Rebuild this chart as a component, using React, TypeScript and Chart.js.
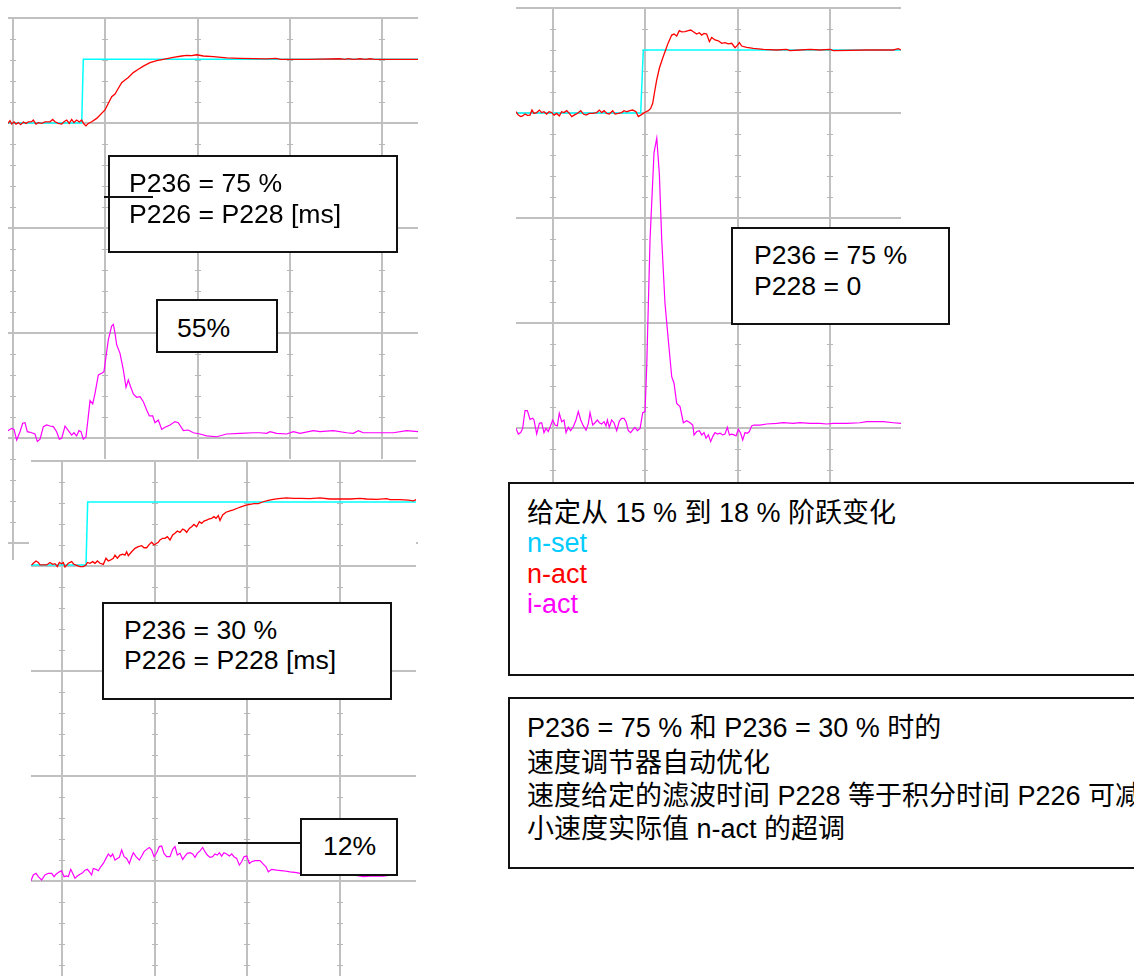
import React, { useEffect, useRef } from 'react';
import { Chart, registerables } from 'chart.js';
Chart.register(...registerables);

type P = [number, number];

// ---------- tick values (t in divisions, n in %, i in %) ----------
const A_X_TICKS = [0, 1, 2, 3, 4];
const B_X_TICKS = [0, 1, 2, 3];
const C_X_TICKS = [0, 1, 2, 3];
const N_TICKS = [-5, 0, 5, 10, 15, 20];

// ---------- Panel A : P236 = 75 %, P226 = P228 ----------
const A_NSET: P[] = [[-0.06, 15.0], [0.745, 15.0], [0.762, 18.03], [4.4, 18.03]];
const A_NACT: P[] = [
  [-0.054, 14.98], [-0.033, 15.11], [-0.014, 14.95], [0.011, 15.05], [0.033, 14.95], [0.058, 15.02], [0.083, 14.92],
  [0.112, 15.05], [0.141, 14.98], [0.166, 15.05], [0.202, 15.06], [0.22, 15.14], [0.249, 14.95], [0.274, 15.02],
  [0.311, 14.98], [0.347, 15.05], [0.401, 15.06], [0.43, 15.17], [0.455, 15.06], [0.491, 14.98], [0.528, 14.95],
  [0.553, 15.06], [0.582, 15.14], [0.61, 14.98], [0.636, 15.17], [0.661, 15.02], [0.69, 15.14], [0.719, 15.05],
  [0.744, 15.14], [0.77, 14.95], [0.791, 14.86], [0.816, 14.98], [0.853, 15.06], [0.907, 15.22], [0.997, 15.62],
  [1.07, 16.25], [1.106, 16.38], [1.131, 16.57], [1.178, 16.92], [1.214, 17.05], [1.25, 17.17], [1.304, 17.4],
  [1.359, 17.56], [1.413, 17.71], [1.485, 17.87], [1.558, 17.97], [1.629, 18.03], [1.738, 18.13], [1.829, 18.19],
  [1.883, 18.22], [1.937, 18.21], [1.991, 18.25], [2.063, 18.19], [2.171, 18.16], [2.316, 18.1], [2.46, 18.08],
  [2.75, 18.05], [2.85, 18.08], [2.9, 18.03], [3.2, 18.03], [3.54, 18.06], [3.6, 18.03], [3.63, 18.06], [3.7, 18.03],
  [3.76, 18.06], [3.82, 18.03], [3.87, 18.06], [3.92, 18.03], [4.39, 18.03],
];
const A_IACT: P[] = [
  [-0.054, 3.5], [-0.014, 4.6], [0.011, 4.1], [0.04, -1.0], [0.076, 3.0], [0.105, 7.0], [0.13, 7.3], [0.155, 3.0],
  [0.202, 2.5], [0.238, 1.9], [0.264, -1.7], [0.293, -0.6], [0.329, 5.4], [0.365, 6.2], [0.401, 5.7], [0.437, 5.4],
  [0.473, 3.0], [0.502, -0.6], [0.528, -0.1], [0.564, 5.7], [0.6, 3.5], [0.636, 1.4], [0.661, 2.5], [0.69, 1.0],
  [0.715, 3.5], [0.737, 3.0], [0.762, -0.6], [0.791, 0.6], [0.816, 10.2], [0.835, 17.8], [0.864, 16.2], [0.889, 21.3],
  [0.925, 30.0], [0.961, 30.8], [0.986, 31.6], [1.008, 38.7], [1.033, 46.7], [1.069, 53.3], [1.088, 54.1],
  [1.106, 49.8], [1.124, 44.3], [1.16, 40.3], [1.196, 32.4], [1.225, 24.1], [1.25, 27.6], [1.275, 24.4], [1.304, 21.0],
  [1.34, 19.4], [1.377, 19.7], [1.413, 17.3], [1.449, 13.3], [1.478, 10.5], [1.514, 10.5], [1.539, 7.3], [1.575, 8.6],
  [1.612, 4.1], [1.648, 5.1], [1.702, 6.2], [1.756, 7.8], [1.792, 7.3], [1.846, 3.5], [1.9, 3.8], [1.955, 2.5],
  [2.027, 1.9], [2.099, 1.0], [2.208, 0.6], [2.316, 1.9], [2.461, 2.2], [2.605, 2.5], [2.677, 2.5], [2.75, 2.2],
  [2.786, 3.0], [2.858, 2.2], [2.967, 1.9], [3.039, 3.0], [3.111, 2.2], [3.256, 3.5], [3.328, 3.0], [3.473, 3.5],
  [3.617, 2.5], [3.689, 2.2], [3.743, 3.5], [3.797, 2.5], [4.123, 2.5], [4.267, 3.5], [4.39, 3.0],
];

// ---------- Panel B : P236 = 75 %, P228 = 0 ----------
const B_NSET: P[] = [[-0.41, 15.0], [0.95, 15.0], [0.978, 18.0], [3.78, 18.0]];
const B_NACT: P[] = [
  [-0.401, 15.06], [-0.376, 14.9], [-0.35, 14.83], [-0.329, 14.86], [-0.303, 14.95], [-0.278, 14.89], [-0.249, 14.9],
  [-0.228, 15.14], [-0.206, 14.98], [-0.177, 15.02], [-0.148, 15.14], [-0.123, 15.02], [-0.098, 15.06], [-0.069, 14.95],
  [-0.043, 15.06], [-0.014, 15.02], [0.011, 14.9], [0.04, 14.98], [0.068, 14.86], [0.094, 15.06], [0.119, 15.02],
  [0.148, 15.11], [0.177, 14.98], [0.203, 14.83], [0.228, 14.9], [0.263, 14.98], [0.3, 15.11], [0.329, 14.95],
  [0.358, 14.9], [0.394, 14.98], [0.43, 14.98], [0.473, 15.02], [0.502, 15.14], [0.527, 15.02], [0.553, 15.11],
  [0.582, 14.98], [0.61, 14.95], [0.646, 15.11], [0.672, 14.95], [0.708, 14.98], [0.744, 15.02], [0.769, 15.11],
  [0.798, 15.06], [0.834, 15.11], [0.863, 15.14], [0.899, 15.06], [0.924, 14.83], [0.95, 14.9], [0.978, 14.98],
  [1.008, 15.06], [1.033, 15.11], [1.058, 15.22], [1.08, 15.46], [1.098, 15.94], [1.123, 16.57], [1.152, 17.13],
  [1.184, 17.56], [1.213, 17.92], [1.249, 18.35], [1.286, 18.71], [1.311, 18.76], [1.34, 18.67], [1.368, 18.92],
  [1.394, 18.86], [1.43, 18.87], [1.466, 18.92], [1.492, 18.95], [1.52, 18.87], [1.557, 18.76], [1.585, 18.82],
  [1.611, 18.71], [1.636, 18.79], [1.665, 18.76], [1.694, 18.4], [1.719, 18.6], [1.755, 18.48], [1.791, 18.44],
  [1.828, 18.32], [1.863, 18.35], [1.899, 18.29], [1.936, 18.32], [1.972, 18.11], [1.997, 18.22], [2.019, 18.35],
  [2.044, 18.19], [2.098, 18.13], [2.17, 18.08], [2.279, 18.03], [2.423, 18.0], [2.53, 18.03], [2.568, 17.97],
  [2.676, 18.0], [2.784, 18.03], [2.893, 18.0], [3.001, 18.03], [3.037, 17.97], [3.398, 18.0], [3.687, 18.0],
  [3.741, 18.06], [3.77, 18.0],
];
const B_IACT: P[] = [
  [-0.401, -0.2], [-0.376, -2.9], [-0.35, -2.2], [-0.329, -0.2], [-0.303, 8.3], [-0.278, 8.3], [-0.249, 4.1],
  [-0.22, 4.6], [-0.206, 3.8], [-0.177, -2.9], [-0.148, 2.2], [-0.123, 2.5], [-0.098, -2.2], [-0.076, -0.2],
  [-0.051, -1.7], [-0.033, 0.3], [-0.004, 3.8], [0.022, 1.4], [0.047, 1.0], [0.068, 7.0], [0.094, 3.0], [0.119, 3.8],
  [0.141, -2.2], [0.166, 0.3], [0.191, -1.3], [0.22, 0.6], [0.249, 3.8], [0.274, 7.8], [0.3, 3.8], [0.329, 1.0],
  [0.358, -1.0], [0.383, 2.2], [0.401, 7.3], [0.43, 1.4], [0.455, 2.5], [0.48, 3.8], [0.502, 2.5], [0.527, 1.9],
  [0.553, 3.0], [0.574, 1.0], [0.589, 3.8], [0.61, 0.3], [0.635, 3.8], [0.661, 2.5], [0.69, -1.3], [0.719, 3.3],
  [0.744, 4.6], [0.769, 4.6], [0.791, 3.0], [0.816, -1.3], [0.841, -2.2], [0.87, -0.6], [0.888, 0.3], [0.914, -1.3],
  [0.943, -0.2], [0.972, 7.3], [0.997, 7.8], [1.015, 29.2], [1.051, 89.5], [1.094, 131], [1.124, 138], [1.152, 121],
  [1.178, 89.5], [1.213, 59.4], [1.249, 41.9], [1.286, 24.4], [1.311, 21.3], [1.34, 11.7], [1.376, 10.2],
  [1.412, 2.5], [1.449, 3.5], [1.484, 2.5], [1.514, 1.4], [1.528, -3.3], [1.557, -1.7], [1.585, -1.3], [1.611, -3.3],
  [1.636, -2.2], [1.658, -4.9], [1.683, -3.3], [1.708, -6.5], [1.73, -4.1], [1.755, -2.2], [1.781, -2.9],
  [1.809, -2.5], [1.838, -3.3], [1.863, -2.9], [1.889, 0.3], [1.911, -3.3], [1.936, -2.9], [1.961, -3.3],
  [1.983, -3.8], [2.008, -0.6], [2.033, -2.5], [2.055, -5.7], [2.08, -2.2], [2.105, -2.5], [2.127, -1.7],
  [2.152, 1.0], [2.177, 1.4], [2.242, 1.4], [2.314, 1.9], [2.423, 2.2], [2.495, 2.5], [2.603, 2.2], [2.676, 2.5],
  [2.784, 2.2], [2.893, 2.2], [2.965, 1.9], [3.037, 2.2], [3.181, 2.2], [3.326, 2.5], [3.398, 3.0], [3.506, 3.0],
  [3.578, 3.0], [3.687, 2.5], [3.77, 2.2],
];

// ---------- Panel C : P236 = 30 %, P226 = P228 ----------
const C_NSET: P[] = [[-0.34, 15.05], [0.259, 15.05], [0.277, 18.05], [3.83, 18.05]];
const C_NACT: P[] = [
  [-0.328, 15.05], [-0.31, 15.13], [-0.281, 15.24], [-0.256, 15.17], [-0.238, 15.05], [-0.202, 15.05],
  [-0.166, 15.05], [-0.13, 15.17], [-0.101, 15.08], [-0.076, 15.11], [-0.051, 14.97], [-0.029, 15.17],
  [-0.004, 15.11], [0.014, 15.17], [0.032, 14.95], [0.068, 15.13], [0.104, 15.21], [0.13, 15.08], [0.166, 15.02],
  [0.194, 14.97], [0.23, 14.97], [0.259, 15.05], [0.274, 15.17], [0.302, 15.13], [0.331, 15.21], [0.356, 15.13],
  [0.382, 15.24], [0.41, 15.13], [0.446, 15.08], [0.475, 15.37], [0.5, 15.24], [0.526, 15.29], [0.554, 15.37],
  [0.572, 15.52], [0.598, 15.37], [0.626, 15.52], [0.655, 15.56], [0.68, 15.52], [0.698, 15.68], [0.716, 15.49],
  [0.752, 15.68], [0.788, 15.84], [0.824, 15.92], [0.861, 15.97], [0.886, 15.87], [0.914, 15.87], [0.943, 16.03],
  [0.968, 16.13], [0.994, 16.0], [1.015, 16.06], [1.04, 16.13], [1.058, 16.24], [1.087, 16.32], [1.112, 16.32],
  [1.137, 16.4], [1.166, 16.24], [1.195, 16.48], [1.22, 16.56], [1.245, 16.67], [1.274, 16.6], [1.303, 16.76],
  [1.328, 16.7], [1.346, 16.6], [1.375, 16.79], [1.4, 16.87], [1.425, 16.98], [1.454, 16.87], [1.483, 17.11],
  [1.508, 17.03], [1.533, 17.14], [1.562, 17.19], [1.591, 17.24], [1.616, 17.27], [1.641, 17.35], [1.663, 17.27],
  [1.688, 17.4], [1.706, 17.17], [1.735, 17.43], [1.771, 17.56], [1.814, 17.62], [1.85, 17.67], [1.893, 17.75],
  [1.94, 17.83], [1.987, 17.9], [2.03, 17.94], [2.073, 17.97], [2.12, 17.97], [2.174, 18.06], [2.228, 18.13],
  [2.282, 18.17], [2.336, 18.21], [2.426, 18.24], [2.498, 18.22], [2.57, 18.22], [2.678, 18.21], [2.786, 18.24],
  [2.894, 18.19], [3.002, 18.19], [3.11, 18.19], [3.218, 18.22], [3.29, 18.19], [3.398, 18.17], [3.506, 18.21],
  [3.542, 18.16], [3.65, 18.16], [3.74, 18.14], [3.794, 18.1], [3.83, 18.17],
];
const C_IACT: P[] = [
  [-0.335, 0.2], [-0.31, 2.9], [-0.281, 3.7], [-0.256, 2.1], [-0.22, 0.5], [-0.184, 2.9], [-0.148, 3.7],
  [-0.112, 3.7], [-0.086, 2.1], [-0.065, 3.3], [-0.029, 4.4], [-0.004, 4.9], [0.022, 2.1], [0.05, 2.5], [0.068, 2.1],
  [0.094, 5.6], [0.115, 3.7], [0.14, 1.3], [0.166, 2.4], [0.194, 3.3], [0.223, 4.0], [0.248, 5.2], [0.274, 5.6],
  [0.302, 4.0], [0.32, 2.9], [0.338, 6.0], [0.367, 5.6], [0.392, 4.9], [0.418, 6.8], [0.446, 8.4], [0.475, 10.8],
  [0.5, 12.9], [0.526, 11.6], [0.547, 12.9], [0.572, 10.0], [0.598, 10.8], [0.619, 11.3], [0.644, 14.8], [0.67, 11.6],
  [0.698, 10.8], [0.727, 8.4], [0.752, 11.6], [0.77, 13.5], [0.799, 11.6], [0.835, 10.0], [0.861, 11.9], [0.886, 14.0],
  [0.914, 15.1], [0.943, 16.0], [0.968, 14.8], [0.994, 11.6], [1.022, 13.5], [1.051, 16.4], [1.076, 16.7],
  [1.101, 13.2], [1.13, 11.6], [1.166, 11.6], [1.195, 15.1], [1.22, 16.4], [1.245, 12.4], [1.274, 13.2],
  [1.303, 10.3], [1.328, 11.9], [1.353, 13.2], [1.382, 13.5], [1.411, 12.9], [1.436, 11.3], [1.461, 13.2],
  [1.49, 14.4], [1.519, 16.0], [1.544, 14.0], [1.569, 12.4], [1.598, 11.3], [1.627, 11.6], [1.652, 12.9],
  [1.677, 12.4], [1.699, 13.5], [1.724, 11.9], [1.749, 13.5], [1.778, 12.9], [1.807, 11.9], [1.832, 12.9],
  [1.857, 11.6], [1.886, 10.8], [1.915, 7.6], [1.94, 9.2], [1.965, 11.6], [1.994, 11.9], [2.023, 8.4], [2.048, 9.2],
  [2.084, 9.7], [2.138, 9.7], [2.174, 8.1], [2.203, 6.8], [2.228, 4.4], [2.264, 5.6], [2.318, 5.2], [2.39, 4.9],
  [2.462, 4.4], [2.534, 4.0], [2.57, 3.7], [2.804, 2.9], [2.93, 3.3], [3.038, 2.9], [3.146, 2.9], [3.254, 2.1],
  [3.362, 2.5], [3.47, 2.4], [3.56, 2.9],
];

// ---------- text ----------
const LEGEND_TITLE = '给定从 15 % 到 18 % 阶跃变化';
const LEGEND_ITEMS = [
  { label: 'n-set', color: '#00ccff' },
  { label: 'n-act', color: '#ff0000' },
  { label: 'i-act', color: '#ff00ff' },
];
const NOTE_LINES = [
  'P236 = 75 % 和 P236 = 30 % 时的',
  '速度调节器自动优化',
  '速度给定的滤波时间 P228 等于积分时间 P226 可减',
  '小速度实际值 n-act 的超调',
];

const GRID = '#c0c0c0';
const FONT = '"Liberation Sans", Arial, "Noto Sans CJK SC", sans-serif';

const minorTicks = {
  id: 'minorTicks',
  beforeDatasetsDraw(chart: any) {
    const { ctx, scales } = chart;
    const x = scales.x, y = scales.y;
    ctx.save();
    ctx.strokeStyle = '#b8b8b8';
    ctx.lineWidth = 1;
    const xs = x.ticks.map((t: any) => Math.round(x.getPixelForValue(t.value)));
    for (let n = Math.ceil(y.min); n <= Math.floor(y.max); n++) {
      if (n % 5 === 0) continue;
      const py = Math.round(y.getPixelForValue(n)) + 0.5;
      for (const px of xs) {
        ctx.beginPath();
        ctx.moveTo(px - 3, py);
        ctx.lineTo(px + 3, py);
        ctx.stroke();
      }
    }
    ctx.restore();
  },
};

interface PanelProps {
  left: number; top: number; width: number; height: number;
  pad: { left: number; right: number; top: number; bottom: number };
  xMin: number; xMax: number; xTicks: number[];
  nMin: number; nMax: number;
  nset: P[]; nact: P[]; iact: P[];
  bg?: string;
}

function Panel(p: PanelProps) {
  const ref = useRef<HTMLCanvasElement | null>(null);
  useEffect(() => {
    if (!ref.current) return;
    const toXY = (a: P[]) => a.map(([x, y]) => ({ x, y }));
    const chart = new Chart(ref.current, {
      type: 'line',
      data: {
        datasets: [
          { label: 'n-act', data: toXY(p.nact), borderColor: '#ff0000', borderWidth: 1.3, pointRadius: 0, yAxisID: 'y', tension: 0 },
          { label: 'n-set', data: toXY(p.nset), borderColor: '#00ffff', borderWidth: 1.5, pointRadius: 0, yAxisID: 'y', tension: 0 },
          { label: 'i-act', data: toXY(p.iact), borderColor: '#ff00ff', borderWidth: 1.2, pointRadius: 0, yAxisID: 'yi', tension: 0 },
        ],
      },
      options: {
        animation: false,
        responsive: false,
        events: [],
        layout: { padding: p.pad },
        plugins: { legend: { display: false }, tooltip: { enabled: false } },
        scales: {
          x: {
            type: 'linear', min: p.xMin, max: p.xMax,
            afterBuildTicks: (axis: any) => { axis.ticks = p.xTicks.map((v) => ({ value: v })); },
            ticks: { display: false },
            grid: { color: GRID, lineWidth: 2, drawTicks: false },
            border: { display: false },
          },
          y: {
            type: 'linear', min: p.nMin, max: p.nMax,
            afterBuildTicks: (axis: any) => { axis.ticks = N_TICKS.filter((v) => v >= p.nMin && v <= p.nMax).map((v) => ({ value: v })); },
            ticks: { display: false },
            grid: { color: GRID, lineWidth: 2, drawTicks: false },
            border: { display: false },
          },
          yi: {
            type: 'linear', display: false, min: p.nMin * 10, max: p.nMax * 10,
          },
        },
      } as any,
      plugins: [minorTicks],
    });
    return () => chart.destroy();
  }, []);
  return (
    <canvas
      ref={ref}
      width={p.width}
      height={p.height}
      style={{ position: 'absolute', left: p.left, top: p.top, width: p.width, height: p.height, background: p.bg || 'transparent' }}
    />
  );
}

function Box({ l, t, w, h }: { l: number; t: number; w: number; h: number }) {
  return <div style={{ position: 'absolute', left: l, top: t, width: w, height: h, boxSizing: 'border-box', border: '2px solid #111', background: '#fff' }} />;
}

function Txt({ l, t, color, size, children }: { l: number; t: number; color?: string; size?: number; children: React.ReactNode }) {
  return (
    <div style={{ position: 'absolute', left: l, top: t, fontFamily: FONT, fontSize: size || 26.6, lineHeight: '30px', color: color || '#000', whiteSpace: 'nowrap' }}>
      {children}
    </div>
  );
}

function Line({ l, t, w, th }: { l: number; t: number; w: number; th: number }) {
  return <div style={{ position: 'absolute', left: l, top: t, width: w, height: th, background: '#111' }} />;
}

export default function App() {
  return (
    <div style={{ position: 'absolute', left: 0, top: 0, width: 1134, height: 976, overflow: 'hidden', background: '#fff' }}>
      {/* Panel A */}
      <Panel left={6} top={16} width={414} height={546} pad={{ left: 2, right: 2, top: 2, bottom: 2 }}
        xMin={-0.0542} xMax={4.39} xTicks={A_X_TICKS} nMin={-5.81} nMax={20}
        nset={A_NSET} nact={A_NACT} iact={A_IACT} />
      {/* Panel B */}
      <Panel left={514} top={6} width={389} height={496} pad={{ left: 2, right: 2, top: 2, bottom: 2 }}
        xMin={-0.401} xMax={3.77} xTicks={B_X_TICKS} nMin={-3.43} nMax={20}
        nset={B_NSET} nact={B_NACT} iact={B_IACT} />
      {/* Panel C */}
      <Panel left={29} top={459} width={387} height={521} pad={{ left: 2, right: 0, top: 2, bottom: 0 }}
        xMin={-0.335} xMax={3.823} xTicks={C_X_TICKS} nMin={-4.71} nMax={20}
        nset={C_NSET} nact={C_NACT} iact={C_IACT} bg="#fff" />

      {/* Panel A notes */}
      <Box l={108} t={155} w={290} h={98} />
      <Txt l={129} t={168}>P236 = 75 %</Txt>
      <Txt l={129} t={199}>P226 = P228 [ms]</Txt>
      <Line l={104} t={196} w={49} th={1.5} />
      <Box l={156} t={299} w={122} h={54} />
      <Txt l={177} t={313}>55%</Txt>

      {/* Panel B note */}
      <Box l={731} t={227} w={219} h={98} />
      <Txt l={754} t={240}>P236 = 75 %</Txt>
      <Txt l={754} t={271}>P228 = 0</Txt>

      {/* Panel C notes */}
      <Box l={102} t={602} w={290} h={98} />
      <Txt l={124} t={615}>P236 = 30 %</Txt>
      <Txt l={124} t={645}>P226 = P228 [ms]</Txt>
      <Line l={178} t={842} w={122} th={2} />
      <Box l={300} t={818} w={98} h={58} />
      <Txt l={323} t={831}>12%</Txt>

      {/* Legend box */}
      <Box l={508} t={482} w={640} h={194} />
      <Txt l={527} t={498} size={27}>{LEGEND_TITLE}</Txt>
      {LEGEND_ITEMS.map((it, k) => (
        <Txt key={it.label} l={527} t={[528, 559, 589][k]} color={it.color} size={27}>{it.label}</Txt>
      ))}

      {/* Note box */}
      <Box l={508} t={697} w={640} h={172} />
      {NOTE_LINES.map((s, k) => (
        <Txt key={k} l={527} t={[713, 748, 781, 814][k]} size={27}>{s}</Txt>
      ))}
    </div>
  );
}
